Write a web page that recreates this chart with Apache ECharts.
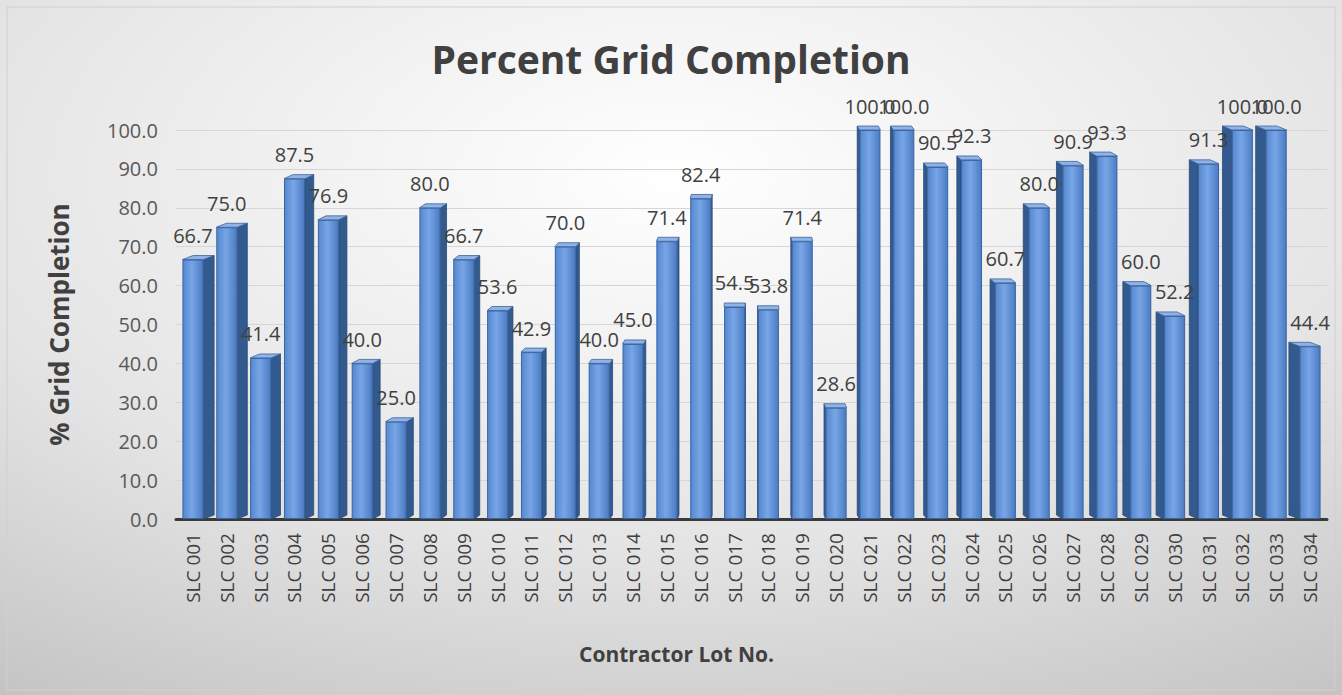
<!DOCTYPE html>
<html>
<head>
<meta charset="utf-8">
<title>Percent Grid Completion</title>
<script src="https://cdn.jsdelivr.net/npm/echarts@6/dist/echarts.min.js"></script>
<style>
  html, body { margin: 0; padding: 0; background: #ffffff; }
  #main { width: 1342px; height: 695px; }
</style>
</head>
<body>
<div id="main"></div>
<script>
// contractor lots along the x axis
const lots = [
  'SLC 001', 'SLC 002', 'SLC 003', 'SLC 004', 'SLC 005', 'SLC 006', 'SLC 007',
  'SLC 008', 'SLC 009', 'SLC 010', 'SLC 011', 'SLC 012', 'SLC 013', 'SLC 014',
  'SLC 015', 'SLC 016', 'SLC 017', 'SLC 018', 'SLC 019', 'SLC 020', 'SLC 021',
  'SLC 022', 'SLC 023', 'SLC 024', 'SLC 025', 'SLC 026', 'SLC 027', 'SLC 028',
  'SLC 029', 'SLC 030', 'SLC 031', 'SLC 032', 'SLC 033', 'SLC 034'
];
// percent complete per lot
const completion = [
  66.7, 75.0, 41.4, 87.5, 76.9, 40.0, 25.0, 80.0, 66.7, 53.6, 42.9, 70.0,
  40.0, 45.0, 71.4, 82.4, 54.5, 53.8, 71.4, 28.6, 100.0, 100.0, 90.5, 92.3,
  60.7, 80.0, 90.9, 93.3, 60.0, 52.2, 91.3, 100.0, 100.0, 44.4
];
const yTicks = [0, 10, 20, 30, 40, 50, 60, 70, 80, 90, 100];

const font = '"Open Sans", "Liberation Sans", sans-serif';
const chart = echarts.init(document.getElementById('main'), null, { renderer: 'svg' });

// side + top faces so the bars look like the 3D Excel columns
function renderFaces(params, api) {
  const idx = api.value(0);
  const val = api.value(1);
  const top = api.coord([idx, val]);
  const base = api.coord([idx, 0]);
  const w = api.size([1, 0])[0] * 0.62;
  const mid = params.coordSys.x + params.coordSys.width / 2;
  const rel = (top[0] - mid) / (params.coordSys.width / 2);
  const dx = -rel * 11;
  const dy = -4;
  const l = top[0] - w / 2, r = top[0] + w / 2;
  const edge = dx > 0 ? r : l;
  return {
    type: 'group',
    children: [
      {
        type: 'polygon',
        shape: { points: [[edge, top[1]], [edge + dx, top[1] + dy], [edge + dx, base[1] + dy], [edge, base[1]]] },
        style: { fill: '#335a8f', stroke: '#2a4a78', lineWidth: 0.8 }
      },
      {
        type: 'polygon',
        shape: { points: [[l, top[1]], [l + dx, top[1] + dy], [r + dx, top[1] + dy], [r, top[1]]] },
        style: { fill: '#8fb3e6', stroke: '#3d6298', lineWidth: 0.8 }
      }
    ]
  };
}

chart.setOption({
  backgroundColor: {
    type: 'radial', x: 0.5, y: 0.25, r: 0.9,
    colorStops: [
      { offset: 0, color: '#ffffff' },
      { offset: 0.6, color: '#e4e4e4' },
      { offset: 1, color: '#c4c4c4' }
    ]
  },
  title: {
    text: 'Percent Grid Completion',
    left: 'center',
    top: 34,
    textStyle: { fontFamily: font, fontSize: 39, fontWeight: 'bold', color: '#404040' }
  },
  graphic: [{
    type: 'rect',
    shape: { x: 7, y: 7, width: 1328, height: 683 },
    style: { fill: 'none', stroke: '#d0d0d0', lineWidth: 1 },
    silent: true
  }],
  grid: { left: 176, right: 15, top: 130, bottom: 176 },
  xAxis: {
    type: 'category',
    data: lots,
    name: 'Contractor Lot No.',
    nameLocation: 'middle',
    nameGap: 124,
    nameTextStyle: {
      fontFamily: font, fontSize: 21, fontWeight: 'bold', color: '#404040',
      padding: [0, 150, 0, 0]
    },
    axisLine: { lineStyle: { color: '#3a3a3a', width: 3 } },
    axisTick: { show: false },
    axisLabel: { rotate: 90, interval: 0, margin: 14, fontFamily: font, fontSize: 19, color: '#404040' }
  },
  yAxis: {
    type: 'value',
    min: 0,
    max: 100,
    interval: 10,
    name: '% Grid Completion',
    nameLocation: 'middle',
    nameGap: 104,
    nameTextStyle: { fontFamily: font, fontSize: 26, fontWeight: 'bold', color: '#404040' },
    axisLabel: {
      margin: 18, fontFamily: font, fontSize: 20, color: '#595959',
      formatter: v => yTicks.includes(v) ? v.toFixed(1) : ''
    },
    axisLine: { show: false },
    splitLine: { lineStyle: { color: '#d6d6d6', width: 1 } }
  },
  series: [
    {
      type: 'custom',
      renderItem: renderFaces,
      data: completion.map((v, i) => [i, v]),
      encode: { x: 0, y: 1 },
      z: 1,
      silent: true
    },
    {
      type: 'bar',
      data: completion,
      barWidth: '62%',
      z: 2,
      itemStyle: {
        borderColor: '#3a64a0',
        borderWidth: 1,
        color: {
          type: 'linear', x: 0, y: 0, x2: 1, y2: 0,
          colorStops: [
            { offset: 0, color: '#5588d0' },
            { offset: 0.45, color: '#78a5e6' },
            { offset: 1, color: '#4a7cc4' }
          ]
        }
      },
      label: {
        show: true,
        position: 'top',
        distance: 14,
        fontFamily: font,
        fontSize: 20,
        color: '#404040',
        formatter: p => p.value.toFixed(1)
      }
    }
  ]
});
</script>
</body>
</html>
